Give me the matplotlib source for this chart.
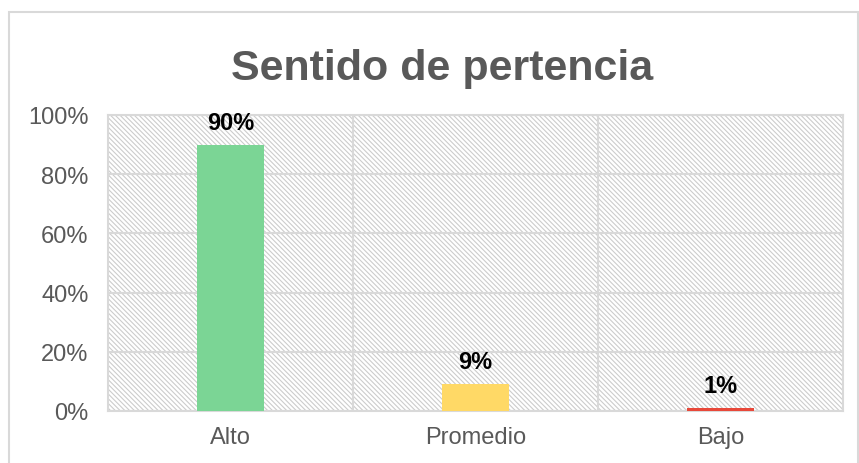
import matplotlib
matplotlib.use("Agg")
import matplotlib.pyplot as plt
from matplotlib.patches import Rectangle
from matplotlib.ticker import PercentFormatter

categories = ["Alto", "Promedio", "Bajo"]
values = [90, 9, 1]
colors = ["#7BD595", "#FFD966", "#E8483A"]
title = "Sentido de pertencia"

plt.rcParams["font.family"] = ["Liberation Sans", "DejaVu Sans"]
plt.rcParams["hatch.linewidth"] = 0.8

fig = plt.figure(figsize=(8.59, 4.64), dpi=100)
ax = fig.add_axes([108 / 859, 1 - 412 / 464, (843 - 108) / 859, (412 - 116) / 464])

# outer chart frame
fig.patches.append(Rectangle((9 / 859, -0.02), (858 - 9) / 859, 1.02 - 13 / 464,
                             transform=fig.transFigure, fill=False,
                             edgecolor="#d9d9d9", linewidth=1.5))

# hatched plot background
ax.add_patch(Rectangle((0, 0), 1, 1, transform=ax.transAxes, facecolor="white",
                       edgecolor="#cccccc", hatch="\\" * 7, linewidth=0, zorder=0))

x = range(len(categories))
bars = ax.bar(x, values, width=0.273, color=colors, zorder=3)

for b, v in zip(bars, values):
    ax.annotate(f"{v}%", (b.get_x() + b.get_width() / 2, v), xytext=(0, 16),
                textcoords="offset pixels", ha="center", va="baseline",
                fontsize=17, fontweight="bold", color="black")

ax.set_xlim(-0.5, 2.5)
ax.set_ylim(0, 100)
ax.set_yticks(range(0, 101, 20))
ax.yaxis.set_major_formatter(PercentFormatter(decimals=0))
ax.set_xticks(list(x))
ax.set_xticklabels(categories)
ax.set_xticks([0.5, 1.5], minor=True)
ax.tick_params(axis="both", which="both", length=0, labelsize=17, colors="#595959")
ax.tick_params(axis="y", pad=14)
ax.tick_params(axis="x", pad=11)

ax.grid(axis="y", color="#d9d9d9", linewidth=1.5, zorder=1)
ax.grid(axis="x", which="minor", color="#d9d9d9", linewidth=1.5, zorder=1)
ax.set_axisbelow(True)
for s in ax.spines.values():
    s.set_color("#d9d9d9")
    s.set_linewidth(1.5)

fig.text(442 / 859, 1 - 80 / 464, title, ha="center", va="baseline",
         fontsize=31, fontweight="bold", color="#595959")

fig.savefig("out.png", dpi=100)
